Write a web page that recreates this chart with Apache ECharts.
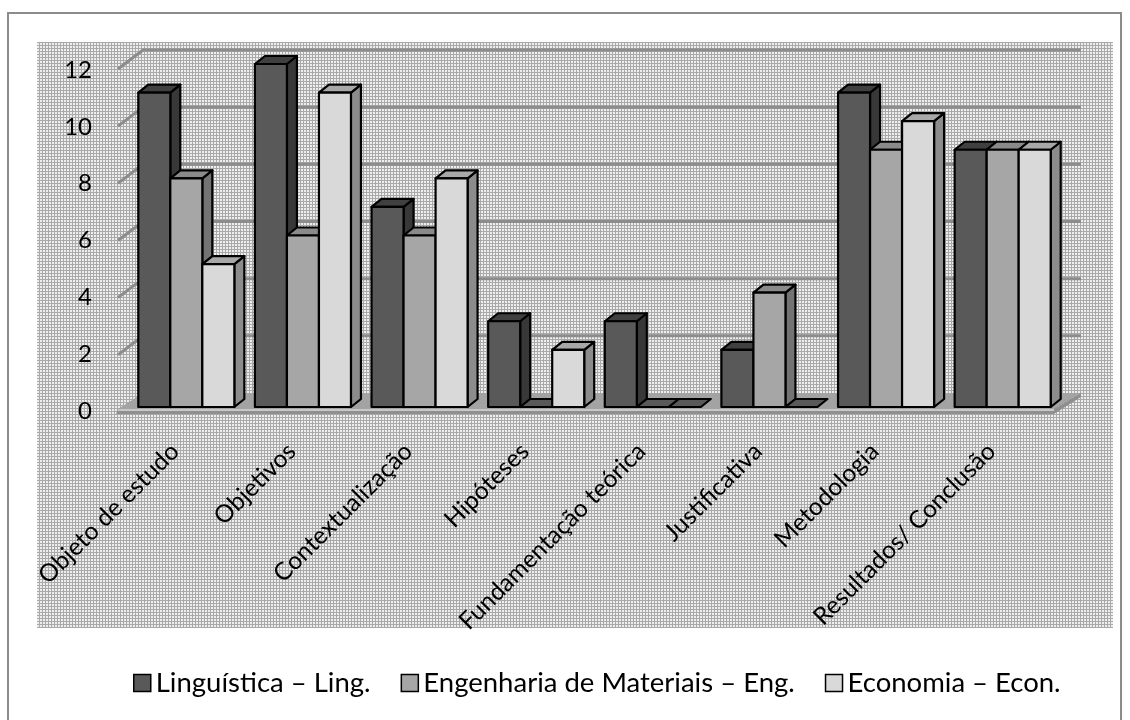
<!DOCTYPE html>
<html><head><meta charset="utf-8">
<script src="https://cdn.jsdelivr.net/npm/echarts@6/dist/echarts.min.js"></script>
<style>html,body{margin:0;padding:0;background:#fff}#c{width:1130px;height:720px}</style>
</head><body><div id="c"></div>
<script>
const categories = ['Objeto de estudo','Objetivos','Contextualização','Hipóteses','Fundamentação teórica','Justificativa','Metodologia','Resultados/ Conclusão'];
const seriesNames = ['Linguística – Ling.','Engenharia de Materiais – Eng.','Economia – Econ.'];
const ling = [11,12,7,3,3,2,11,9];
const eng  = [8,6,6,0,0,4,9,9];
const econ = [5,11,8,2,0,0,10,9];
const yTicks = [0,2,4,6,8,10,12];

const shades = [
  {front:'#595959', top:'#404040', side:'#383838'},
  {front:'#a6a6a6', top:'#8a8a8a', side:'#737373'},
  {front:'#d9d9d9', top:'#a8a8a8', side:'#8c8c8c'}
];
const FONT = 'Lato';
const DX = 10, DY = -8;

// texture pattern
const pc = document.createElement('canvas');
pc.width = 3; pc.height = 3;
const pctx = pc.getContext('2d');
pctx.fillStyle = '#eeeeee'; pctx.fillRect(0,0,3,3);
pctx.fillStyle = '#a9a9a9'; pctx.fillRect(0,0,3,1); pctx.fillRect(0,0,1,3);

function barRender(s){
  return function(params, api){
    const i = api.value(0), v = api.value(1);
    const base = api.coord([i, 0]);
    const tp = api.coord([i, v]);
    const band = api.size([1, 0])[0];
    const w = band * 0.2745;
    const x = base[0] - 1.5 * w + s * w;
    const y0 = base[1], y1 = tp[1];
    const sh = shades[s];
    const ls = {stroke:'#000', lineWidth:2.2, lineJoin:'round'};
    if (v === 0) {
      return {type:'polygon', shape:{points:[[x,y0],[x+w,y0],[x+w+DX,y0+DY],[x+DX,y0+DY]]},
        style:Object.assign({fill:'#595959'}, ls)};
    }
    return {type:'group', children:[
      {type:'polygon', shape:{points:[[x+w,y1],[x+w+DX,y1+DY],[x+w+DX,y0+DY],[x+w,y0]]}, style:Object.assign({fill:sh.side}, ls)},
      {type:'polygon', shape:{points:[[x,y1],[x+DX,y1+DY],[x+w+DX,y1+DY],[x+w,y1]]}, style:Object.assign({fill:sh.top}, ls)},
      {type:'rect', shape:{x:x, y:y1, width:w, height:y0-y1}, style:Object.assign({fill:sh.front}, ls)}
    ]};
  };
}

function frameRender(params, api){
  const band = api.size([1, 0])[0];
  const c0 = api.coord([0, 0]);
  const cN = api.coord([categories.length - 1, 0]);
  const X0 = c0[0] - band/2, X1 = cN[0] + band/2;
  const Y0 = c0[1];
  const children = [];
  children.push({type:'polygon', shape:{points:[[X0-10,Y0+2],[X1-7,Y0+2],[X1+20,Y0-14],[X0+15,Y0-14]]},
    style:{fill:'#a3a3a3'}});
  children.push({type:'polygon', shape:{points:[[X0-10,Y0+2],[X1-7,Y0+2],[X1-7,Y0+7],[X0-12,Y0+7]]},
    style:{fill:'#8f8f8f'}});
  children.push({type:'polygon', shape:{points:[[X1-7,Y0+2],[X1+20,Y0-14],[X1+20,Y0-10],[X1-7,Y0+7]]},
    style:{fill:'#8f8f8f'}});
  children.push({type:'line', shape:{x1:X0-10,y1:Y0+3,x2:X1-7,y2:Y0+3}, style:{stroke:'#c8c8c8', lineWidth:2}});
  yTicks.forEach(function(t){
    if (t === 0) return;
    const y = api.coord([0, t])[1];
    children.push({type:'polyline', shape:{points:[[X0-10,y+5],[X0+15,y-14],[X1+20,y-14]]},
      style:{stroke:'#8c8c8c', lineWidth:3, fill:null}});
  });
  return {type:'group', children:children};
}

const chart = echarts.init(document.getElementById('c'));
const datas = [ling, eng, econ];
const series = [{
  type:'custom', name:'frame', silent:true, z:1,
  data:[[0,0]], encode:{x:0,y:1}, renderItem: frameRender
}];
datas.forEach(function(arr, s){
  series.push({
    type:'custom', name:seriesNames[s], z:3 + s,
    itemStyle:{color:shades[s].front, borderColor:'#000', borderWidth:1.5},
    encode:{x:0, y:1},
    data: arr.map(function(v, i){ return [i, v]; }),
    renderItem: barRender(s)
  });
});

chart.setOption({
  animation:false,
  backgroundColor:'#fff',
  graphic:[
    {type:'rect', z:-20, silent:true, shape:{x:8, y:13, width:1113, height:730}, style:{fill:'#fff', stroke:'#8c8c8c', lineWidth:2}},
    {type:'rect', z:-19, silent:true, shape:{x:37, y:42, width:1076, height:586}, style:{fill:{image:pc, repeat:'repeat'}}}
  ],
  grid:[
    {left:128, top:64, width:933, height:343},
    {left:128, top:70, width:933, height:341}
  ],
  xAxis:[{
    type:'category', data:categories, gridIndex:0,
    axisLine:{show:false}, axisTick:{show:false}, splitLine:{show:false},
    axisLabel:{interval:0, rotate:45, margin:29, padding:[0,16,0,0], fontFamily:FONT, fontSize:24.5, color:'#000'}
  },{
    type:'category', data:categories, gridIndex:1, show:false
  }],
  yAxis:[{
    type:'value', min:0, max:12, interval:2, gridIndex:0,
    axisLine:{show:false}, axisTick:{show:false}, splitLine:{show:false}, axisLabel:{show:false}
  },{
    type:'value', min:0, max:12, interval:2, gridIndex:1,
    axisLine:{show:false}, axisTick:{show:false}, splitLine:{show:false},
    axisLabel:{margin:36, fontFamily:FONT, fontSize:24, color:'#000'}
  }],
  legend:{
    data:seriesNames, top:664, left:128, icon:'rect',
    itemWidth:17, itemHeight:17, itemGap:30,
    itemStyle:{borderColor:'#000', borderWidth:1.5},
    textStyle:{fontFamily:FONT, fontSize:27.5, color:'#000'}
  },
  series:series
});
</script>
</body></html>
